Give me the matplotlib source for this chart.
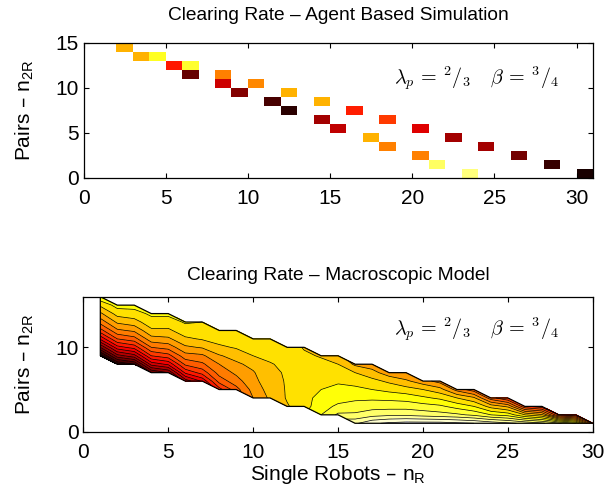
"""Clearing rate: agent based simulation vs macroscopic model (two stacked panels)."""

import matplotlib
import numpy as np

matplotlib.use("Agg")
import matplotlib.pyplot as plt  # noqa: E402

plt.rcParams["font.family"] = ["Liberation Sans", "DejaVu Sans"]

# ---- agent based simulation: one cell per (n_R, n_2R) pair, rate on a 0..1 scale
abs_nr = [2, 3, 4, 5, 6, 6, 8, 8, 10, 9, 12, 11, 14, 12, 16, 14, 18, 15, 20,
          17, 22, 18, 24, 20, 26, 21, 28, 23, 30]
abs_n2r = [14, 13, 13, 12, 12, 11, 11, 10, 10, 9, 9, 8, 8, 7, 7, 6, 6, 5, 5,
           4, 4, 3, 3, 2, 2, 1, 1, 0, 0]
abs_rate = [0.63, 0.63, 0.78, 0.40, 0.79, 0.14, 0.555, 0.29, 0.57, 0.18, 0.63,
            0.09, 0.63, 0.05, 0.41, 0.23, 0.45, 0.27, 0.32, 0.63, 0.23, 0.555,
            0.23, 0.555, 0.16, 0.84, 0.07, 0.87, 0.02]

# ---- macroscopic model: for n_R = 1..30 the lowest n_2R and the rates upwards
macro_nr = list(range(1, 31))
macro_lo = [9, 8, 8, 7, 7, 6, 6, 5, 5, 4, 4, 3, 3, 2, 2, 1, 1, 1, 1, 1,
            1, 1, 1, 1, 1, 1, 1, 1, 1, 1]
macro_rate = [
    [0.02, 0.20, 0.36, 0.48, 0.57, 0.64, 0.71, 0.79],
    [0.05, 0.23, 0.38, 0.50, 0.59, 0.66, 0.72, 0.77],
    [0.10, 0.28, 0.42, 0.53, 0.61, 0.68, 0.73, 0.77],
    [0.15, 0.32, 0.45, 0.55, 0.63, 0.69, 0.73, 0.76],
    [0.20, 0.36, 0.48, 0.57, 0.64, 0.69, 0.73, 0.76],
    [0.27, 0.41, 0.51, 0.58, 0.64, 0.69, 0.73, 0.755],
    [0.36, 0.47, 0.54, 0.59, 0.655, 0.705, 0.73, 0.75],
    [0.43, 0.52, 0.57, 0.60, 0.645, 0.69, 0.72, 0.745],
    [0.53, 0.58, 0.61, 0.64, 0.67, 0.705, 0.73, 0.74],
    [0.60, 0.62, 0.635, 0.645, 0.665, 0.70, 0.72, 0.735],
    [0.66, 0.67, 0.68, 0.69, 0.697, 0.71, 0.72, 0.73],
    [0.695, 0.705, 0.705, 0.705, 0.705, 0.71, 0.72, 0.73],
    [0.73, 0.735, 0.735, 0.73, 0.725, 0.72, 0.71, 0.695],
    [0.80, 0.78, 0.765, 0.75, 0.74, 0.73, 0.715, 0.695],
    [0.86, 0.81, 0.78, 0.76, 0.745, 0.725, 0.70, 0.665],
    [0.94, 0.86, 0.82, 0.79, 0.76, 0.735, 0.70, 0.64],
    [0.99, 0.88, 0.83, 0.79, 0.75, 0.715, 0.67, 0.62],
    [1.01, 0.89, 0.83, 0.787, 0.735, 0.69, 0.62],
    [1.02, 0.89, 0.83, 0.78, 0.72, 0.66, 0.60],
    [1.02, 0.88, 0.82, 0.76, 0.70, 0.62],
    [1.02, 0.87, 0.81, 0.74, 0.67, 0.58],
    [1.01, 0.86, 0.78, 0.70, 0.58],
    [1.00, 0.84, 0.75, 0.66, 0.52],
    [0.98, 0.80, 0.68, 0.52],
    [0.96, 0.78, 0.64, 0.45],
    [0.94, 0.70, 0.46],
    [0.91, 0.66, 0.42],
    [0.86, 0.45],
    [0.80, 0.40],
    [0.50],
]

params = r"$\lambda_p\,=\,{}^{2}/_{3}\quad\,\beta\,=\,{}^{3}/_{4}$"


def style(ax, xmax, ymax, yticks, text_y):
    ax.set_xlim(0, xmax)
    ax.set_ylim(0, ymax)
    ax.set_xticks(range(0, 31, 5))
    ax.set_yticks(yticks)
    ax.tick_params(direction="in", length=3.6, width=0.8, top=True, right=True,
                   labelsize=15)
    ax.tick_params(axis="x", pad=8)
    ax.tick_params(axis="y", pad=3.5)
    for s in ax.spines.values():
        s.set_linewidth(0.9)
    ax.set_ylabel(r"Pairs – n$\mathregular{_{2R}}$", fontsize=15, labelpad=14)
    ax.text(0.772, text_y, params, transform=ax.transAxes, ha="center", va="center",
            fontsize=14.5, math_fontfamily="cm")


fig = plt.figure(figsize=(6.06, 4.98), dpi=100)
ax1 = fig.add_axes([0.1378, 0.6432, 0.8408, 0.2711])
ax2 = fig.add_axes([0.1375, 0.1331, 0.8408, 0.2711])

# top panel: cells
C = np.ma.masked_all((15, 31))
for nr, n2r, r in zip(abs_nr, abs_n2r, abs_rate):
    C[n2r, nr] = r
ax1.pcolormesh(np.arange(32), np.arange(16), C, cmap="hot", vmin=0, vmax=1)
style(ax1, 31, 15, [0, 5, 10, 15], 0.73)
ax1.set_title("Clearing Rate – Agent Based Simulation", fontsize=13.8, pad=16.5)

# bottom panel: filled contours over the valid band, each band coloured by its lower level
Z = np.full((17, 30), np.nan)
for i, (lo, col) in enumerate(zip(macro_lo, macro_rate)):
    Z[lo:lo + len(col), i] = col
Z = np.ma.masked_invalid(Z)
X, Y = np.meshgrid(macro_nr, np.arange(17))
levels = np.round(np.arange(0, 1.051, 0.05), 3)
ax2.contourf(X, Y, Z, levels=levels, colors=plt.cm.hot(np.clip(levels[:-1], 0, 1)))
ax2.contour(X, Y, Z, levels=levels, colors="k", linewidths=0.5)
hi = [lo + len(col) - 1 for lo, col in zip(macro_lo, macro_rate)]
ox = macro_nr + macro_nr[::-1] + [macro_nr[0]]
oy = hi + macro_lo[::-1] + [hi[0]]
ax2.plot(ox, oy, color="k", lw=0.9)
style(ax2, 30, 16, [0, 10], 0.755)
ax2.set_title("Clearing Rate – Macroscopic Model", fontsize=13.8, pad=12)
ax2.set_xlabel(r"Single Robots – n$\mathregular{_R}$", fontsize=15, labelpad=1)

fig.savefig("out.png", dpi=100)
